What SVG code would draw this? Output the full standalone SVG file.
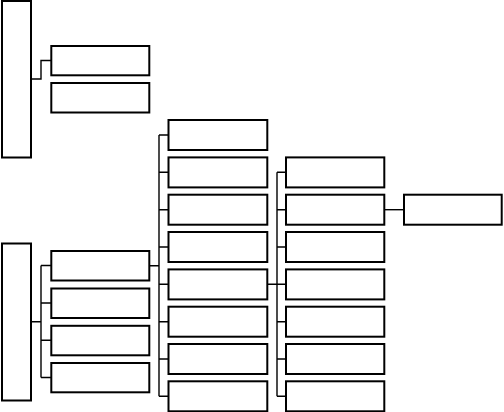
<svg xmlns="http://www.w3.org/2000/svg" width="504" height="412" viewBox="0 0 504 412">
<style>
.n{fill:#fff;stroke:#000;stroke-width:2}
.c{fill:none;stroke:#000;stroke-width:1.4}
</style>
<rect width="504" height="412" fill="#fff"/>
<g id="connectors">
<path class="c" d="M31 79H41V60.5H51"/>
<path class="c" d="M31 321.7H41M41 265.5V377.5M41 265.5H51M41 303H51M41 340.3H51M41 377.5H51"/>
<path class="c" d="M149 265.7H159M159 135V396.3M159 135H169M159 172.3H169M159 209.7H169M159 247H169M159 284.3H169M159 321.7H169M159 359H169M159 396.3H169"/>
<path class="c" d="M267 284.3H277M277 172.3V396.3M277 172.3H286M277 209.7H286M277 247H286M277 284.3H286M277 321.7H286M277 359H286M277 396.3H286"/>
<path class="c" d="M384 209.7H404"/>
</g>
<g id="root1"><rect class="n" x="2" y="1" width="29" height="156.5"/></g>
<g id="a1"><rect class="n" x="51.3" y="46" width="98" height="29.3"/></g>
<g id="a2"><rect class="n" x="51.3" y="83" width="98" height="29.5"/></g>
<g id="root2"><rect class="n" x="2" y="243.5" width="29" height="157"/></g>
<g id="b1"><rect class="n" x="51.3" y="251" width="98" height="29.5"/></g>
<g id="b2"><rect class="n" x="51.3" y="288.5" width="98" height="29.5"/></g>
<g id="b3"><rect class="n" x="51.3" y="325.8" width="98" height="29.5"/></g>
<g id="b4"><rect class="n" x="51.3" y="363" width="98" height="29.3"/></g>
<g id="c1"><rect class="n" x="168.5" y="120" width="98.8" height="30"/></g>
<g id="c2"><rect class="n" x="168.5" y="157.4" width="98.8" height="30"/></g>
<g id="c3"><rect class="n" x="168.5" y="194.7" width="98.8" height="30"/></g>
<g id="c4"><rect class="n" x="168.5" y="232" width="98.8" height="30"/></g>
<g id="c5"><rect class="n" x="168.5" y="269.4" width="98.8" height="30"/></g>
<g id="c6"><rect class="n" x="168.5" y="306.7" width="98.8" height="30"/></g>
<g id="c7"><rect class="n" x="168.5" y="344" width="98.8" height="30"/></g>
<g id="c8"><rect class="n" x="168.5" y="381.3" width="98.8" height="30"/></g>
<g id="d1"><rect class="n" x="286" y="157.4" width="98.3" height="30"/></g>
<g id="d2"><rect class="n" x="286" y="194.7" width="98.3" height="30"/></g>
<g id="d3"><rect class="n" x="286" y="232" width="98.3" height="30"/></g>
<g id="d4"><rect class="n" x="286" y="269.4" width="98.3" height="30"/></g>
<g id="d5"><rect class="n" x="286" y="306.7" width="98.3" height="30"/></g>
<g id="d6"><rect class="n" x="286" y="344" width="98.3" height="30"/></g>
<g id="d7"><rect class="n" x="286" y="381.3" width="98.3" height="30"/></g>
<g id="e1"><rect class="n" x="404" y="194.7" width="97.7" height="30"/></g>
</svg>
